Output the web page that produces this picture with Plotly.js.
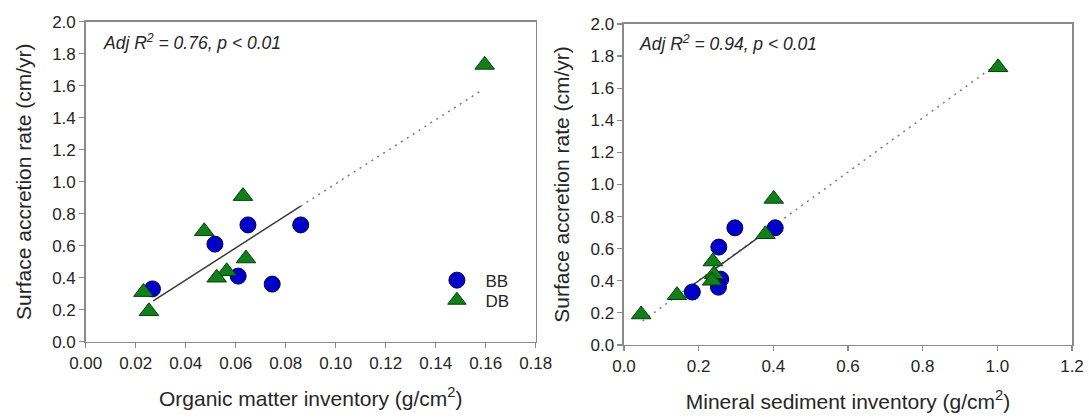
<!DOCTYPE html>
<html>
<head>
<meta charset="utf-8">
<script src="https://cdn.plot.ly/plotly-3.0.1.min.js"></script>
<style>
  html, body { margin: 0; padding: 0; background: #ffffff; }
  #chart { width: 1089px; height: 420px; }
</style>
</head>
<body>
<div id="chart"></div>
<script>
// Surface accretion rate (cm/yr) against organic matter and mineral sediment inventories (g/cm2)

// BB sites
const organicBB = [0.0267, 0.0517, 0.0649, 0.0860, 0.0610, 0.0746];
const mineralBB = [0.183, 0.254, 0.297, 0.405, 0.259, 0.253];
const rateBB    = [0.33, 0.61, 0.73, 0.73, 0.41, 0.36];

// DB sites
const organicDB = [0.1596, 0.0629, 0.0474, 0.0641, 0.0564, 0.0524, 0.0231, 0.0253];
const mineralDB = [1.002, 0.401, 0.379, 0.238, 0.241, 0.236, 0.142, 0.046];
const rateDB    = [1.73, 0.91, 0.69, 0.52, 0.44, 0.40, 0.31, 0.19];

// Regression lines: solid over the fitted span, dotted extension
const organicFitSolidX = [0.027, 0.086];
const organicFitSolidY = [0.255, 0.847];
const organicFitDotX   = [0.086, 0.159];
const organicFitDotY   = [0.847, 1.577];

const mineralFitSolidX = [0.18, 0.38];
const mineralFitSolidY = [0.366, 0.704];
const mineralFitDotX   = [0.05, 0.99];
const mineralFitDotY   = [0.15, 1.735];

const statLabels = ['Adj R<sup>2</sup> = 0.76, p &lt; 0.01', 'Adj R<sup>2</sup> = 0.94, p &lt; 0.01'];
const xTitles = ['Organic matter inventory (g/cm<sup>2</sup>)', 'Mineral sediment inventory (g/cm<sup>2</sup>)'];
const yTitle = 'Surface accretion rate (cm/yr)';
const groupNames = ['BB', 'DB'];

const FONT = 'Liberation Sans, Arial, Helvetica, sans-serif';
const INK = '#262626';
const blueMarker  = { symbol: 'circle', size: 16, color: '#0000c8', line: { color: '#00004a', width: 1 } };
const greenMarker = { symbol: 'triangle-up', size: 17, color: '#11801a', line: { color: '#033d08', width: 1 } };
const solidLine = { color: '#3a3a3a', width: 1.5 };
const dotLine   = { color: '#7a7a7a', width: 1.5, dash: '2px,5px' };

const traces = [
  // left panel
  { x: organicFitDotX, y: organicFitDotY, mode: 'lines', line: dotLine, xaxis: 'x', yaxis: 'y', showlegend: false, hoverinfo: 'skip' },
  { x: organicFitSolidX, y: organicFitSolidY, mode: 'lines', line: solidLine, xaxis: 'x', yaxis: 'y', showlegend: false, hoverinfo: 'skip' },
  { x: organicBB, y: rateBB, mode: 'markers', name: groupNames[0], marker: blueMarker, xaxis: 'x', yaxis: 'y', legend: 'legend' },
  { x: organicDB, y: rateDB, mode: 'markers', name: groupNames[1], marker: greenMarker, xaxis: 'x', yaxis: 'y', legend: 'legend2' },
  // right panel
  { x: mineralFitDotX, y: mineralFitDotY, mode: 'lines', line: dotLine, xaxis: 'x2', yaxis: 'y2', showlegend: false, hoverinfo: 'skip' },
  { x: mineralFitSolidX, y: mineralFitSolidY, mode: 'lines', line: solidLine, xaxis: 'x2', yaxis: 'y2', showlegend: false, hoverinfo: 'skip' },
  { x: mineralBB, y: rateBB, mode: 'markers', name: groupNames[0], marker: blueMarker, xaxis: 'x2', yaxis: 'y2', showlegend: false },
  { x: mineralDB, y: rateDB, mode: 'markers', name: groupNames[1], marker: greenMarker, xaxis: 'x2', yaxis: 'y2', showlegend: false }
];

function axisBase(extra) {
  return Object.assign({
    showline: true, linecolor: '#8a8a8a', linewidth: 1.5, mirror: true,
    ticks: 'outside', ticklen: 5, tickwidth: 1.2, tickcolor: '#8a8a8a',
    showgrid: false, zeroline: false,
    tickfont: { family: FONT, size: 17, color: INK },
    fixedrange: true
  }, extra);
}

function legendAt(y) {
  return {
    x: 0.3934, y: y, xanchor: 'left', yanchor: 'top',
    bgcolor: 'rgba(0,0,0,0)', borderwidth: 0, itemwidth: 47,
    font: { family: FONT, size: 17, color: INK }
  };
}

const layout = {
  width: 1089, height: 420,
  margin: { l: 0, r: 0, t: 0, b: 0 },
  paper_bgcolor: '#ffffff', plot_bgcolor: '#ffffff',
  font: { family: FONT, size: 17, color: INK },
  showlegend: true,
  legend: legendAt(0.3748),
  legend2: legendAt(0.327),
  xaxis: axisBase({
    domain: [0.0787, 0.4919], range: [0, 0.18], tick0: 0, dtick: 0.02, tickformat: '.2f', anchor: 'y',
    title: { text: xTitles[0], font: { family: FONT, size: 21, color: INK }, standoff: 19 }
  }),
  yaxis: axisBase({
    domain: [0.1864, 0.9483], range: [0, 2], tick0: 0, dtick: 0.2, tickformat: '.1f', anchor: 'x',
    title: { text: yTitle, font: { family: FONT, size: 21, color: INK }, standoff: 15 }
  }),
  xaxis2: axisBase({
    domain: [0.573, 0.9844], range: [0, 1.2], tick0: 0, dtick: 0.2, tickformat: '.1f', anchor: 'y2',
    title: { text: xTitles[1], font: { family: FONT, size: 21, color: INK }, standoff: 19 }
  }),
  yaxis2: axisBase({
    domain: [0.1786, 0.9429], range: [0, 2], tick0: 0, dtick: 0.2, tickformat: '.1f', anchor: 'x2',
    title: { text: yTitle, font: { family: FONT, size: 21, color: INK }, standoff: 15 }
  }),
  annotations: [
    { xref: 'x domain', yref: 'y domain', x: 0.034, y: 0.9375, xanchor: 'left', yanchor: 'middle',
      text: '<i>' + statLabels[0] + '</i>', showarrow: false, font: { family: FONT, size: 17.5, color: INK } },
    { xref: 'x2 domain', yref: 'y2 domain', x: 0.030, y: 0.9417, xanchor: 'left', yanchor: 'middle',
      text: '<i>' + statLabels[1] + '</i>', showarrow: false, font: { family: FONT, size: 17.5, color: INK } }
  ]
};

Plotly.newPlot('chart', traces, layout, { displayModeBar: false, staticPlot: true });
</script>
</body>
</html>
